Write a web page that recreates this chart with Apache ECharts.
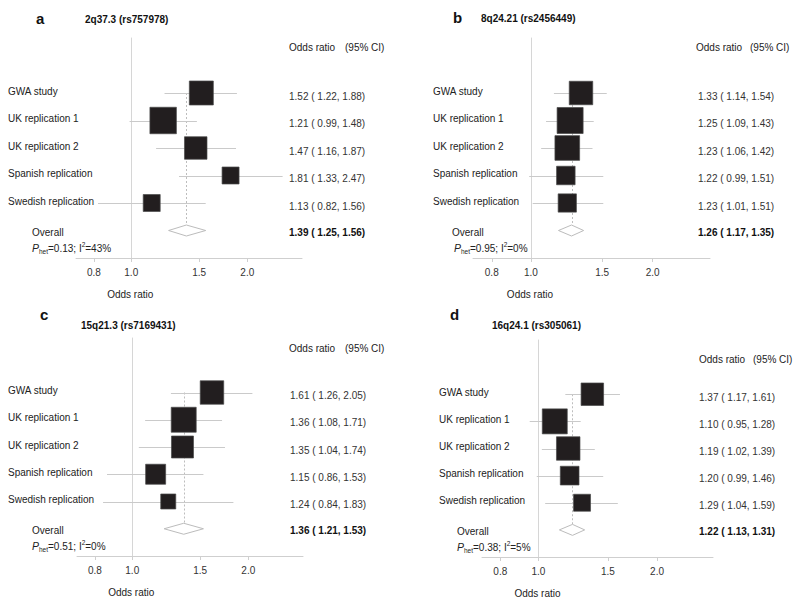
<!DOCTYPE html>
<html><head><meta charset="utf-8">
<script src="https://cdn.jsdelivr.net/npm/echarts@6/dist/echarts.min.js"></script>
<style>html,body{margin:0;padding:0;background:#fff}#c{width:800px;height:605px}</style>
</head><body><div id="c"></div>
<script>
// ---------- data ----------
const studyLabels = ['GWA study', 'UK replication 1', 'UK replication 2', 'Spanish replication', 'Swedish replication'];
const overallLabel = 'Overall';
const tickValues = [0.8, 1.0, 1.5, 2.0];
const axisTitle = 'Odds ratio';
const headerLeft = 'Odds ratio';
const headerRight = '(95% CI)';
const panelLetters = ['a', 'b', 'c', 'd'];
const panelTitles = ['2q37.3 (rs757978)', '8q24.21 (rs2456449)', '15q21.3 (rs7169431)', '16q24.1 (rs305061)'];

const orA = [1.52, 1.21, 1.47, 1.81, 1.13];
const loA = [1.22, 0.99, 1.16, 1.33, 0.82];
const hiA = [1.88, 1.48, 1.87, 2.47, 1.56];
const weightA = [24.0, 29.2, 21.1, 12.0, 12.0];
const overallA = [1.39, 1.25, 1.56];
const hetA = ['0.13', '43%'];

const orB = [1.33, 1.25, 1.23, 1.22, 1.23];
const loB = [1.14, 1.09, 1.06, 0.99, 1.01];
const hiB = [1.54, 1.43, 1.42, 1.51, 1.51];
const weightB = [23.0, 28.2, 25.4, 14.3, 13.9];
const overallB = [1.26, 1.17, 1.35];
const hetB = ['0.95', '0%'];

const orC = [1.61, 1.36, 1.35, 1.15, 1.24];
const loC = [1.26, 1.08, 1.04, 0.86, 0.84];
const hiC = [2.05, 1.71, 1.74, 1.53, 1.83];
const weightC = [23.0, 26.0, 20.2, 16.7, 9.4];
const overallC = [1.36, 1.21, 1.53];
const hetC = ['0.51', '0%'];

const orD = [1.37, 1.10, 1.19, 1.20, 1.29];
const loD = [1.17, 0.95, 1.02, 0.99, 1.04];
const hiD = [1.61, 1.28, 1.39, 1.46, 1.59];
const weightD = [21.1, 26.0, 23.0, 14.6, 12.0];
const overallD = [1.22, 1.13, 1.31];
const hetD = ['0.38', '5%'];

// ---------- layout ----------
const FONT = '"Liberation Sans", Arial, sans-serif';
const layouts = [
  {left: 76, top: 38, width: 226, height: 220, labelX: 8, overallX: 32, phetX: 32, valueX: 289, headX: 289, headDx: 56, headY: 47, letterX: 36, letterY: 18, titleX: 85, titleY: 19},
  {left: 473, top: 38, width: 237, height: 220, labelX: 433, overallX: 452, phetX: 454, valueX: 698, headX: 696, headDx: 54, headY: 47, letterX: 453, letterY: 17, titleX: 481, titleY: 18},
  {left: 77, top: 338, width: 226, height: 218, labelX: 8, overallX: 32, phetX: 32, valueX: 290, headX: 289, headDx: 56, headY: 348, letterX: 40, letterY: 314, titleX: 81, titleY: 325},
  {left: 482, top: 340, width: 231, height: 217, labelX: 439, overallX: 457, phetX: 457, valueX: 699, headX: 699, headDx: 54, headY: 359, letterX: 450, letterY: 314, titleX: 492, titleY: 325}
];
const panels = [
  {or: orA, lo: loA, hi: hiA, w: weightA, ov: overallA, het: hetA},
  {or: orB, lo: loB, hi: hiB, w: weightB, ov: overallB, het: hetB},
  {or: orC, lo: loC, hi: hiC, w: weightC, ov: overallC, het: hetC},
  {or: orD, lo: loD, hi: hiD, w: weightD, ov: overallD, het: hetD}
];
const X_MIN = -0.33, X_MAX = 1.02;
const BOX_K = 4.9;
const fmt = (o, l, h) => o.toFixed(2) + ' ( ' + l.toFixed(2) + ', ' + h.toFixed(2) + ')';
const txt = (extra) => Object.assign({fontFamily: FONT, fontSize: 10, fill: '#2a2a2a', textAlign: 'left', textVerticalAlign: 'middle'}, extra);

const grids = [], xAxes = [], yAxes = [], series = [], graphics = [];

layouts.forEach((L, p) => {
  const P = panels[p];
  grids.push({left: L.left, top: L.top, width: L.width, height: L.height, containLabel: false, outerBoundsMode: 'none'});
  xAxes.push({
    type: 'value', gridIndex: p, min: X_MIN, max: X_MAX,
    axisLine: {show: true, onZero: false, lineStyle: {color: '#cfcfcf', width: 1}},
    axisTick: {show: true, length: 4, lineStyle: {color: '#cfcfcf'}, customValues: tickValues.map(Math.log)},
    axisLabel: {show: true, margin: 9, color: '#333', fontSize: 10, fontFamily: FONT,
      customValues: tickValues.map(Math.log), formatter: v => Math.exp(v).toFixed(1)},
    splitLine: {show: false}
  });
  yAxes.push({
    type: 'value', gridIndex: p, inverse: true, min: -2, max: 6,
    axisLine: {show: true, onZero: true, lineStyle: {color: '#d6d6d6', width: 1}},
    axisTick: {show: false}, axisLabel: {show: false}, splitLine: {show: false}
  });

  // study rows
  series.push({
    type: 'custom', xAxisIndex: p, yAxisIndex: p, z: 3, clip: false, silent: true,
    encode: {x: [0, 1, 2], y: 3},
    data: P.or.map((o, i) => [Math.log(o), Math.log(P.lo[i]), Math.log(P.hi[i]), i, P.w[i]]),
    renderItem: (params, api) => {
      const i = params.dataIndex;
      const row = api.value(3);
      const c = api.coord([api.value(0), row]);
      const lo = api.coord([api.value(1), row]);
      const hi = api.coord([api.value(2), row]);
      const y = Math.round(c[1]) + 0.5;
      const s = BOX_K * Math.sqrt(api.value(4));
      return {type: 'group', children: [
        {type: 'line', shape: {x1: lo[0], y1: y, x2: hi[0], y2: y}, style: {stroke: '#cacaca', lineWidth: 1}},
        {type: 'rect', shape: {x: c[0] - s / 2, y: c[1] - s / 2, width: s, height: s}, style: {fill: '#221e1f', stroke: '#4a4a4a', lineWidth: 0.7}},
        {type: 'text', x: L.labelX, y: c[1] - 2, style: txt({text: studyLabels[i], fill: '#222'})},
        {type: 'text', x: L.valueX, y: c[1] + 3, style: txt({text: fmt(P.or[i], P.lo[i], P.hi[i]), fill: '#333'})}
      ]};
    }
  });

  // overall row
  series.push({
    type: 'custom', xAxisIndex: p, yAxisIndex: p, z: 1, clip: false, silent: true,
    encode: {x: [0, 1, 2], y: 3},
    data: [[Math.log(P.ov[0]), Math.log(P.ov[1]), Math.log(P.ov[2]), 5]],
    renderItem: (params, api) => {
      const row = api.value(3);
      const c = api.coord([api.value(0), row]);
      const lo = api.coord([api.value(1), row]);
      const hi = api.coord([api.value(2), row]);
      const top = api.coord([api.value(0), 0]);
      const one = api.coord([0, 6]);
      const hh = 5.5;
      const cx = Math.round(c[0]) + 0.5;
      return {type: 'group', children: [
        {type: 'line', shape: {x1: cx, y1: top[1], x2: cx, y2: c[1] - hh}, style: {stroke: '#bdbdbd', lineWidth: 1, lineDash: [2, 2]}},
        {type: 'polygon', shape: {points: [[lo[0], c[1]], [c[0], c[1] - hh], [hi[0], c[1]], [c[0], c[1] + hh]]}, style: {fill: '#fff', stroke: '#bcbcbc', lineWidth: 1}},
        {type: 'text', x: L.overallX, y: c[1] + 1.5, style: txt({text: overallLabel, fill: '#222'})},
        {type: 'text', x: L.valueX, y: c[1] + 2, style: txt({text: fmt(P.ov[0], P.ov[1], P.ov[2]), fill: '#111', fontWeight: 'bold'})},
        {type: 'text', x: L.phetX, y: c[1] + 17.5, style: txt({
          text: '{i|P}{sub|het}{n|=' + P.het[0] + '; I}{sup|2}{n|=' + P.het[1] + '}', fill: '#222',
          rich: {
            i: {fontFamily: FONT, fontSize: 10.5, fontStyle: 'italic', fill: '#222', lineHeight: 14, verticalAlign: 'middle'},
            n: {fontFamily: FONT, fontSize: 10, fill: '#222', lineHeight: 14, verticalAlign: 'middle'},
            sub: {fontFamily: FONT, fontSize: 6.5, fill: '#222', lineHeight: 8, verticalAlign: 'bottom'},
            sup: {fontFamily: FONT, fontSize: 6.5, fill: '#222', lineHeight: 8, verticalAlign: 'top'}
          }
        })},
        {type: 'text', x: one[0] - 1, y: one[1] + 36.5, style: txt({text: axisTitle, textAlign: 'center', fill: '#222'})}
      ]};
    }
  });

  // titles and header
  graphics.push(
    {type: 'text', x: L.letterX, y: L.letterY, style: txt({text: panelLetters[p], fontSize: 15, fontWeight: 'bold', fill: '#111'})},
    {type: 'text', x: L.titleX, y: L.titleY, style: txt({text: panelTitles[p], fontWeight: 'bold', fill: '#111'})},
    {type: 'text', x: L.headX, y: L.headY, style: txt({text: headerLeft, fill: '#222'})},
    {type: 'text', x: L.headX + L.headDx, y: L.headY, style: txt({text: headerRight, fill: '#222'})}
  );
});

const chart = echarts.init(document.getElementById('c'), null, {renderer: 'svg'});
chart.setOption({
  backgroundColor: '#fff',
  animation: false,
  grid: grids, xAxis: xAxes, yAxis: yAxes, series: series, graphic: graphics
});
</script>
</body></html>
